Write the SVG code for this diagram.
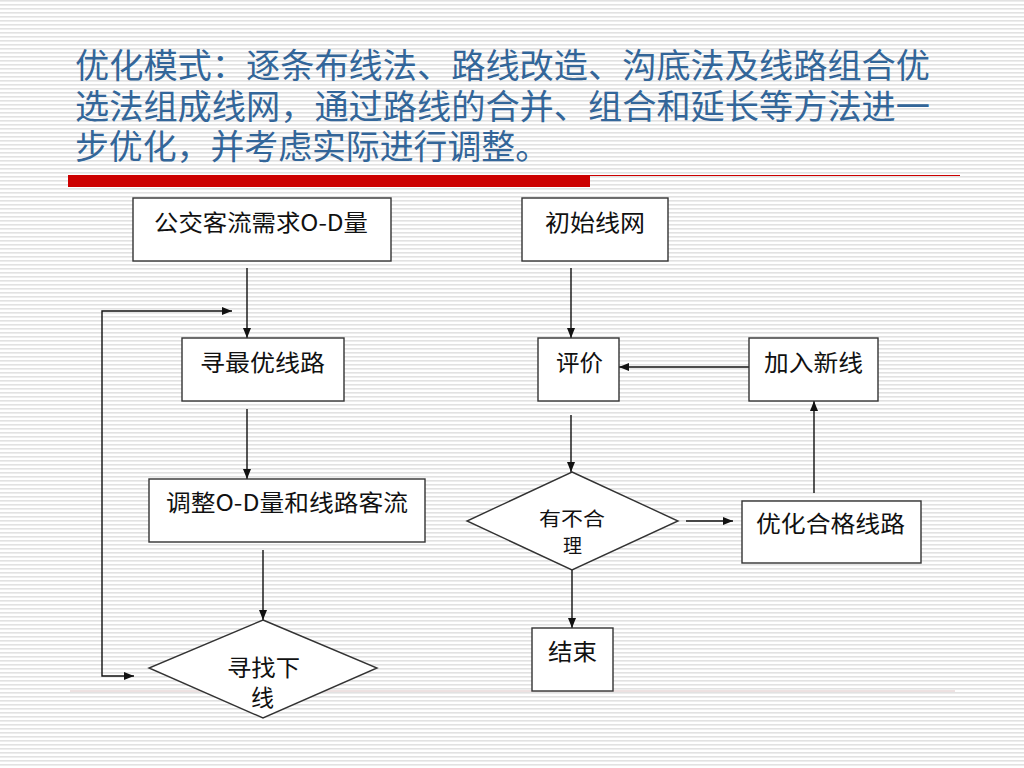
<svg xmlns="http://www.w3.org/2000/svg" width="1024" height="768" viewBox="0 0 1024 768">
<defs>
<pattern id="stripes" x="0" y="0" width="8" height="4" patternUnits="userSpaceOnUse">
<rect x="0" y="0" width="8" height="4" fill="#ffffff"/>
<rect x="0" y="0" width="8" height="1.6" fill="#e2e2e2"/>
</pattern>
<marker id="arr" markerWidth="10" markerHeight="8" refX="10" refY="4" orient="auto-start-reverse" markerUnits="userSpaceOnUse">
<path d="M0,0 L10,4 L0,8 Z" fill="#111"/>
</marker>
</defs>
<style>
.box{fill:#ffffff;stroke:#333;stroke-width:1.4}
.lbl{font-family:"Noto Sans CJK SC","Liberation Serif",serif;font-size:23px;fill:#111}
.sm{font-family:"Noto Sans CJK SC","Liberation Serif",serif;font-size:19px;fill:#111}
.ttl{font-family:"Noto Sans CJK SC","Liberation Sans",sans-serif;font-size:34px;fill:#336699}
.con{fill:none;stroke:#111;stroke-width:1.4;marker-end:url(#arr)}
</style>
<rect width="1024" height="768" fill="url(#stripes)"/>
<g id="title">
<text class="ttl" x="75" y="78" textLength="855" lengthAdjust="spacingAndGlyphs">优化模式：逐条布线法、路线改造、沟底法及线路组合优</text>
<text class="ttl" x="75" y="119" textLength="855" lengthAdjust="spacingAndGlyphs">选法组成线网，通过路线的合并、组合和延长等方法进一</text>
<text class="ttl" x="75" y="159" textLength="474" lengthAdjust="spacingAndGlyphs">步优化，并考虑实际进行调整。</text>
</g>
<g id="rules">
<rect x="68" y="175" width="522" height="12" fill="#cc0000"/>
<line x1="590" y1="175.5" x2="960" y2="175.5" stroke="#cc0000" stroke-width="1"/>
<line x1="70" y1="691" x2="955" y2="691" stroke="#dcc4c4" stroke-width="1"/>
</g>
<g id="connectors">
<path class="con" d="M247,268 V338"/>
<path class="con" d="M247,409 V479"/>
<path class="con" d="M263,550 V620"/>
<path class="con" style="marker-start:url(#arr)" d="M134,676 H102 V311 H232"/>
<path class="con" d="M571,268 V338"/>
<path class="con" d="M749,367 H619"/>
<path class="con" d="M571,415 V472"/>
<path class="con" d="M686,521 H733"/>
<path class="con" d="M814,493 V401"/>
<path class="con" d="M572,570 V628"/>
</g>
<g id="n_od">
<rect class="box" x="133" y="198" width="258" height="63"/>
<text class="lbl" x="154" y="231" textLength="214" lengthAdjust="spacingAndGlyphs">公交客流需求O-D量</text>
</g>
<g id="n_init">
<rect class="box" x="522" y="198" width="146" height="63"/>
<text class="lbl" x="545" y="231" textLength="100" lengthAdjust="spacingAndGlyphs">初始线网</text>
</g>
<g id="n_best">
<rect class="box" x="182" y="338" width="162" height="63"/>
<text class="lbl" x="200" y="371" textLength="125" lengthAdjust="spacingAndGlyphs">寻最优线路</text>
</g>
<g id="n_eval">
<rect class="box" x="538" y="338" width="81" height="63"/>
<text class="lbl" x="556" y="371" textLength="47" lengthAdjust="spacingAndGlyphs">评价</text>
</g>
<g id="n_add">
<rect class="box" x="749" y="338" width="129" height="63"/>
<text class="lbl" x="764" y="371" textLength="99" lengthAdjust="spacingAndGlyphs">加入新线</text>
</g>
<g id="n_adjust">
<rect class="box" x="149" y="479" width="276" height="63"/>
<text class="lbl" x="166" y="511" textLength="242" lengthAdjust="spacingAndGlyphs">调整O-D量和线路客流</text>
</g>
<g id="n_opt">
<rect class="box" x="742" y="501" width="179" height="62"/>
<text class="lbl" x="756" y="532" textLength="149" lengthAdjust="spacingAndGlyphs">优化合格线路</text>
</g>
<g id="n_check">
<polygon class="box" points="572,472 678,521 572,570 467,521"/>
<text class="sm" x="539" y="526" textLength="66" lengthAdjust="spacingAndGlyphs">有不合</text>
<text class="sm" x="563" y="553">理</text>
</g>
<g id="n_end">
<rect class="box" x="532" y="628" width="81" height="63"/>
<text class="lbl" x="548" y="660" textLength="49" lengthAdjust="spacingAndGlyphs">结束</text>
</g>
<g id="n_next">
<polygon class="box" points="263,620 377,668 263,718 149,668"/>
<text class="lbl" x="227" y="676" textLength="73" lengthAdjust="spacingAndGlyphs">寻找下</text>
<text class="lbl" x="251" y="706">线</text>
</g>
</svg>
